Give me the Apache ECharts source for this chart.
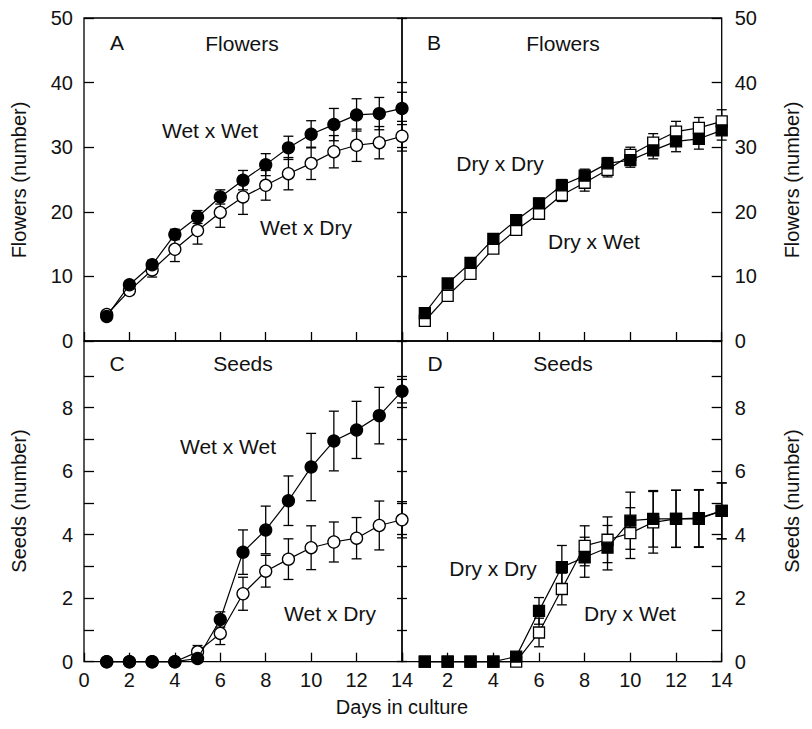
<!DOCTYPE html>
<html><head><meta charset="utf-8">
<script src="https://cdn.jsdelivr.net/npm/echarts@6/dist/echarts.min.js"></script>
<style>html,body{margin:0;padding:0;background:#fff}#c{width:812px;height:729px}</style>
</head><body><div id="c"></div>
<script>
// ---- data ----
const days = [1,2,3,4,5,6,7,8,9,10,11,12,13,14];
const xTicksAll = [0,2,4,6,8,10,12,14];
const xTicksD = [2,4,6,8,10,12,14];
const flowerTicks = [0,10,20,30,40,50];
const seedTicks = [0,1,2,3,4,5,6,7,8,9];
const seedLabels = [0,2,4,6,8];

// Panel A (Flowers): filled = Wet x Wet, open = Wet x Dry
const aFilled    = [3.8, 8.7, 11.8, 16.5, 19.2, 22.3, 24.9, 27.3, 29.9, 32.0, 33.5, 35.0, 35.2, 36.0];
const aFilledErr = [0.4, 0.5, 0.7, 0.8, 1.0, 1.1, 1.5, 1.7, 1.8, 2.1, 2.5, 2.5, 2.5, 2.5];
const aOpen      = [4.1, 7.8, 11.0, 14.2, 17.1, 19.9, 22.3, 24.1, 25.9, 27.5, 29.3, 30.3, 30.7, 31.7];
const aOpenErr   = [0.4, 0.6, 1.1, 1.9, 2.1, 2.3, 2.7, 2.3, 2.5, 2.5, 2.5, 2.5, 2.5, 2.3];

// Panel B (Flowers): filled / open squares
const bFilled    = [4.3, 8.9, 12.1, 15.8, 18.7, 21.3, 24.1, 25.6, 27.5, 28.0, 29.5, 30.9, 31.3, 32.6];
const bFilledErr = [0.4, 0.5, 0.6, 0.6, 0.8, 0.8, 0.9, 1.0, 0.9, 1.1, 1.3, 1.6, 1.6, 1.5];
const bOpen      = [3.1, 7.0, 10.4, 14.3, 17.2, 19.7, 22.6, 24.5, 26.5, 28.8, 30.7, 32.4, 33.0, 34.0];
const bOpenErr   = [0.4, 0.5, 0.6, 0.6, 0.7, 0.8, 1.0, 1.3, 1.1, 1.2, 1.4, 1.6, 1.6, 1.8];

// Panel C (Seeds): filled = Wet x Wet, open = Wet x Dry
const cFilled    = [0, 0, 0, 0, 0.1, 1.33, 3.45, 4.15, 5.07, 6.13, 6.95, 7.3, 7.75, 8.52];
const cFilledErr = [0, 0, 0, 0, 0.1, 0.24, 0.7, 0.75, 0.78, 1.06, 0.94, 0.9, 0.89, 0.37];
const cOpen      = [0, 0, 0, 0, 0.31, 0.89, 2.14, 2.85, 3.23, 3.59, 3.77, 3.89, 4.29, 4.47];
const cOpenErr   = [0, 0, 0, 0, 0.2, 0.35, 0.52, 0.5, 0.64, 0.69, 0.63, 0.65, 0.77, 0.57];

// Panel D (Seeds): filled / open squares
const dFilled    = [0, 0, 0, 0, 0.16, 1.6, 2.98, 3.29, 3.59, 4.44, 4.5, 4.5, 4.52, 4.75];
const dFilledErr = [0, 0, 0, 0, 0.1, 0.42, 0.68, 0.63, 0.7, 0.9, 0.89, 0.9, 0.9, 0.88];
const dOpen      = [0, 0, 0, 0, 0, 0.92, 2.29, 3.65, 3.84, 4.05, 4.39, 4.5, 4.5, 4.75];
const dOpenErr   = [0, 0, 0, 0, 0, 0.45, 0.5, 0.63, 0.72, 0.8, 0.97, 0.9, 0.9, 0.88];

// ---- chart ----
const FONT = '"Liberation Sans", Arial, Helvetica, sans-serif';
const INK = '#111';
const chart = echarts.init(document.getElementById('c'), null, {renderer: 'svg'});

const gridBase = {show: true, borderColor: '#000', borderWidth: 1.3, backgroundColor: 'transparent'};
const grids = [
  Object.assign({left: 84, top: 18, width: 318, height: 323}, gridBase),
  Object.assign({left: 402, top: 18, width: 319.7, height: 323}, gridBase),
  Object.assign({left: 84, top: 341, width: 318, height: 320.7}, gridBase),
  Object.assign({left: 402, top: 341, width: 319.7, height: 320.7}, gridBase)
];

const tickStyle = {color: '#000', width: 1.3};
function xAx(gi, labels) {
  return {
    type: 'value', gridIndex: gi, min: 0, max: 14, interval: 2, position: 'bottom',
    axisLine: {show: false}, splitLine: {show: false},
    axisTick: {show: true, inside: true, length: 9, lineStyle: tickStyle, customValues: xTicksAll},
    axisLabel: labels ? {show: true, customValues: labels, fontSize: 20, fontFamily: FONT, color: INK, margin: 8, showMinLabel: true, showMaxLabel: true}
                      : {show: false}
  };
}
function yAx(gi, pos, kind, labelled, tickLen) {
  const isF = kind === 'f';
  return {
    type: 'value', gridIndex: gi, position: pos,
    min: 0, max: isF ? 50 : 10.1, interval: isF ? 10 : 1,
    axisLine: {show: false}, splitLine: {show: false},
    axisTick: {show: true, inside: true, length: tickLen, lineStyle: tickStyle, customValues: isF ? flowerTicks : seedTicks},
    axisLabel: labelled ? {show: true, customValues: isF ? flowerTicks : seedLabels, fontSize: 20, fontFamily: FONT, color: INK, margin: pos === 'left' ? 11 : 13}
                        : {show: false}
  };
}

const xAxes = [xAx(0, null), xAx(1, null), xAx(2, xTicksAll), xAx(3, xTicksD)];
const yAxes = [
  yAx(0, 'left', 'f', true, 10),   // 0
  yAx(0, 'right', 'f', false, 5),  // 1
  yAx(1, 'left', 'f', false, 5),   // 2
  yAx(1, 'right', 'f', true, 10),  // 3
  yAx(2, 'left', 's', true, 10),   // 4
  yAx(2, 'right', 's', false, 5),  // 5
  yAx(3, 'left', 's', false, 5),   // 6
  yAx(3, 'right', 's', true, 10)   // 7
];

function errSeries(xi, yi, vals, errs) {
  return {
    type: 'custom', xAxisIndex: xi, yAxisIndex: yi, silent: true, z: 2, clip: false,
    data: days.map((d, i) => [d, vals[i], errs[i]]),
    encode: {x: 0, y: 1},
    renderItem: function (params, api) {
      const x = api.value(0), y = api.value(1), e = api.value(2);
      if (!e) return null;
      const t = api.coord([x, y + e]);
      const b = api.coord([x, y - e]);
      const w = 5;
      const st = {stroke: '#000', lineWidth: 1.3};
      return {type: 'group', children: [
        {type: 'line', shape: {x1: t[0], y1: t[1], x2: b[0], y2: b[1]}, style: st},
        {type: 'line', shape: {x1: t[0] - w, y1: t[1], x2: t[0] + w, y2: t[1]}, style: st},
        {type: 'line', shape: {x1: b[0] - w, y1: b[1], x2: b[0] + w, y2: b[1]}, style: st}
      ]};
    }
  };
}
function lineSeries(name, xi, yi, vals, shape, filled) {
  return {
    name: name, type: 'line', xAxisIndex: xi, yAxisIndex: yi, z: filled ? 4 : 3,
    data: days.map((d, i) => [d, vals[i]]),
    symbol: shape, symbolSize: shape === 'circle' ? 12 : 11, showSymbol: true, showAllSymbol: true,
    clip: false,
    itemStyle: {color: filled ? '#000' : '#fff', borderColor: '#000', borderWidth: 1.3},
    lineStyle: {color: '#000', width: 1.2},
    emphasis: {disabled: true}
  };
}

const series = [
  errSeries(0, 0, aOpen, aOpenErr), errSeries(0, 0, aFilled, aFilledErr),
  lineSeries('Wet x Dry', 0, 0, aOpen, 'circle', false), lineSeries('Wet x Wet', 0, 0, aFilled, 'circle', true),
  errSeries(1, 3, bOpen, bOpenErr), errSeries(1, 3, bFilled, bFilledErr),
  lineSeries('B open', 1, 3, bOpen, 'rect', false), lineSeries('B filled', 1, 3, bFilled, 'rect', true),
  errSeries(2, 4, cOpen, cOpenErr), errSeries(2, 4, cFilled, cFilledErr),
  lineSeries('C Wet x Dry', 2, 4, cOpen, 'circle', false), lineSeries('C Wet x Wet', 2, 4, cFilled, 'circle', true),
  errSeries(3, 7, dOpen, dOpenErr), errSeries(3, 7, dFilled, dFilledErr),
  lineSeries('D open', 3, 7, dOpen, 'rect', false), lineSeries('D filled', 3, 7, dFilled, 'rect', true)
];

function txt(s, x, y, size, rot) {
  return {type: 'text', x: x, y: y, rotation: rot || 0, z: 10, silent: true,
    style: {text: s, fill: INK, font: size + 'px ' + FONT, textAlign: 'center', textVerticalAlign: 'middle'}};
}
const graphics = [
  txt('A', 117, 42, 21), txt('Flowers', 242, 43, 21), txt('Wet x Wet', 210, 130, 21), txt('Wet x Dry', 306, 227, 21),
  txt('B', 434, 42, 21), txt('Flowers', 563, 43, 21), txt('Dry x Dry', 500, 163, 21), txt('Dry x Wet', 594, 241, 21),
  txt('C', 117, 363, 21), txt('Seeds', 243, 363, 21), txt('Wet x Wet', 228, 446, 21), txt('Wet x Dry', 330, 613, 21),
  txt('D', 435, 363, 21), txt('Seeds', 563, 363, 21), txt('Dry x Dry', 493, 568, 21), txt('Dry x Wet', 630, 613, 21),
  txt('Days in culture', 402, 707, 20),
  txt('Flowers (number)', 19, 180, 20, Math.PI / 2), txt('Flowers (number)', 792, 180, 20, Math.PI / 2),
  txt('Seeds (number)', 19, 501, 20, Math.PI / 2), txt('Seeds (number)', 792, 501, 20, Math.PI / 2)
];

chart.setOption({
  animation: false,
  backgroundColor: '#fff',
  grid: grids,
  xAxis: xAxes,
  yAxis: yAxes,
  series: series,
  graphic: graphics
});
</script>
</body></html>
